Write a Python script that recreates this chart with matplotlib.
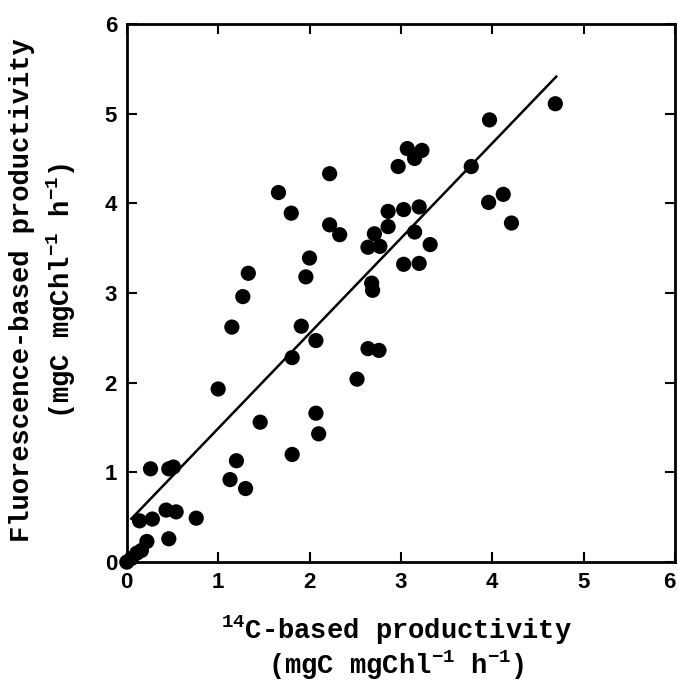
import matplotlib
matplotlib.use("Agg")
import matplotlib.pyplot as plt
import numpy as np

# Data
c14 = [0.00, 0.05, 0.11, 0.16, 0.22, 0.14, 0.28, 0.26, 0.46, 0.51, 0.43, 0.54, 0.76, 0.46,
       1.00, 1.13, 1.20, 1.30, 1.46, 1.15, 1.27, 1.33, 1.66, 1.80, 1.81, 1.81, 1.91, 1.96,
       2.00, 2.07, 2.07, 2.10, 2.22, 2.22, 2.33, 2.52, 2.64, 2.76, 2.64, 2.77, 2.71, 2.68,
       2.69, 2.86, 2.86, 2.97, 3.03, 3.20, 3.15, 3.32, 3.03, 3.20, 3.07, 3.23, 3.15, 3.77,
       3.97, 3.96, 4.12, 4.21, 4.69]
fluor = [0.00, 0.04, 0.10, 0.13, 0.23, 0.46, 0.48, 1.04, 1.04, 1.06, 0.58, 0.56, 0.49, 0.26,
         1.93, 0.92, 1.13, 0.82, 1.56, 2.62, 2.96, 3.22, 4.12, 3.89, 2.28, 1.20, 2.63, 3.18,
         3.39, 2.47, 1.66, 1.43, 4.33, 3.76, 3.65, 2.04, 2.38, 2.36, 3.51, 3.52, 3.66, 3.11,
         3.03, 3.91, 3.74, 4.41, 3.93, 3.96, 3.68, 3.54, 3.32, 3.33, 4.61, 4.59, 4.50, 4.41,
         4.93, 4.01, 4.10, 3.78, 5.11]
fit_x = [0.05, 4.70]
fit_intercept = 0.43
fit_slope = 1.06
ticks = [0, 1, 2, 3, 4, 5, 6]

plt.rcParams['mathtext.default'] = 'regular'

fig = plt.figure(figsize=(6.78, 6.83), dpi=100)
ax = fig.add_axes([0.187, 0.177, 0.8086, 0.788])

ax.scatter(c14, fluor, s=120, color='black', edgecolors='none', zorder=3, clip_on=False)
fx = np.array(fit_x)
ax.plot(fx, fit_intercept + fit_slope * fx, color='black', lw=1.8, zorder=2)

ax.set_xlim(0, 6)
ax.set_ylim(0, 6)
ax.set_xticks(ticks)
ax.set_yticks(ticks)
ax.tick_params(direction='in', length=7, width=1.5, top=True, right=True,
               labelsize=16, pad=7)
for lab in ax.get_xticklabels() + ax.get_yticklabels():
    lab.set_fontfamily('Liberation Sans')
    lab.set_fontweight('bold')
ax.get_xticklabels()[-1].set_horizontalalignment('right')
ax.get_xticklabels()[-1].set_x(6)
for sp in ax.spines.values():
    sp.set_linewidth(2.0)

lblfont = dict(family='Liberation Mono', weight='bold', size=19.5)
fig.text(0.585, 0.077, r'$^{14}$C-based productivity', ha='center', va='center', **lblfont)
fig.text(0.585, 0.026, r'(mgC mgChl$^{-1}$ h$^{-1}$)', ha='center', va='center', **lblfont)
fig.text(0.033, 0.575, 'Fluorescence-based productivity', ha='center', va='center',
         rotation=90, **lblfont)
fig.text(0.090, 0.575, r'(mgC mgChl$^{-1}$ h$^{-1}$)', ha='center', va='center',
         rotation=90, **lblfont)

fig.savefig('out.png', dpi=100)
